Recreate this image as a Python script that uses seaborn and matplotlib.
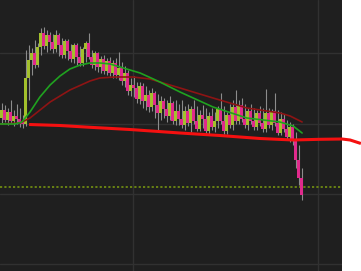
import matplotlib
matplotlib.use("Agg")
import matplotlib.pyplot as plt
import seaborn as sns
import pandas as pd
import numpy as np

# ---- data (price units, bar index 0..100) ----
opens = [153,161,151,159,150,155,152,149,147,193,
         211,218,206,224,238,225,236,229,222,236,
         226,216,230,220,212,226,214,208,222,228,
         214,206,218,204,212,200,210,198,208,196,
         203,190,198,180,186,183,172,185,170,176,
         164,178,166,158,170,162,155,168,150,160,
         152,146,160,148,162,150,142,156,152,140,
         155,144,150,162,150,140,156,146,164,150,
         166,152,146,160,150,144,158,148,142,158,
         146,160,148,138,152,142,134,144,130,111,93]
closes = [161,151,159,150,155,152,149,147,193,211,
          218,206,224,238,225,236,229,222,236,226,
          216,230,220,212,226,214,208,222,228,214,
          206,218,204,212,200,210,198,208,196,203,
          190,198,180,186,183,172,185,170,176,164,
          178,166,158,170,162,155,168,150,160,152,
          146,160,148,162,150,142,156,152,140,155,
          144,150,162,150,140,156,146,164,150,166,
          152,146,160,150,144,158,148,142,158,146,
          160,148,138,152,142,134,144,130,111,93,76]
highs = [168,166,163,171,161,167,163,156,221,226,
         223,231,228,243,244,241,239,237,241,238,
         233,232,232,227,228,228,225,224,230,238,
         221,220,219,215,216,213,214,211,213,219,
         209,205,201,193,195,189,189,188,185,181,
         183,180,177,175,173,171,175,170,171,167,
         171,165,167,165,171,165,161,166,163,159,
         163,159,165,178,165,159,167,171,181,171,
         173,167,163,167,163,161,165,163,182,163,
         162,178,161,159,157,151,149,147,139,126,103]
lows = [147,149,146,148,145,147,144,143,145,171,
        196,203,204,216,222,219,221,218,219,215,
        213,213,211,209,208,206,205,205,209,212,
        203,201,199,198,197,196,195,193,193,191,
        186,184,176,175,174,168,167,163,161,159,
        160,153,139,151,153,149,151,147,146,146,
        143,141,145,139,147,140,140,143,138,136,
        141,139,143,147,137,137,143,141,147,147,
        149,143,141,147,141,141,145,139,139,143,
        141,145,136,136,139,131,129,126,103,86,71]

fast_ma_x = [-0.5,4.5,6.8,9.5,12.8,16.2,19.5,22.8,26.2,29.5,32.8,36.2,39.5,46.2,52.8,59.5,70.5,81.8,92.8,97.2,100.2]
fast_ma_y = [147,147,149,159,174,186,195,202,206,208,208,207,204,198,189,179,164,153,149,145,138]

slow_ma_x = [-0.5,6.2,9.5,16.2,22.8,29.5,32.8,37.8,43.8,49.5,52.8,59.5,70.5,81.8,92.8,96.2,100.2]
slow_ma_y = [147,148,153,169,181,190,193,194,194,192,189,183,173,163,158,155,149]

long_ma_x = [9.2,19.5,29.5,42.8,59.5,72.8,86.2,97.2,106.2,113.5,116.2,119.8]
long_ma_y = [146.5,145.5,143.7,141.5,138,135.5,132.5,131,131.7,132,131,127.5]

level = 84

# ---- styling ----
BG = "#1f1f1f"
GRID = "#313131"
UP = "#a3c02c"
DOWN = "#e02a8c"
WICK = "#8c8c8c"

sns.set_theme(style="dark", rc={"axes.facecolor": BG, "figure.facecolor": "none"})

fig = plt.figure(figsize=(3.61, 2.71), dpi=100)
ax = fig.add_axes([0, 0, 342 / 361, 1])
ax.set_facecolor(BG)

df = pd.DataFrame({"open": opens, "close": closes, "high": highs, "low": lows})
df["idx"] = np.arange(len(df))
df["up"] = df["close"] >= df["open"]

ax.set_xlim(-0.5, 113.5)
ax.set_ylim(0, 271)
ax.set_xticks([43.8, 105.5])
ax.set_yticks([7, 77, 147, 218])
ax.grid(True, color=GRID, linewidth=1.0)
ax.tick_params(length=0, labelbottom=False, labelleft=False)
for s in ax.spines.values():
    s.set_visible(False)

# dotted level line
ax.axhline(level, color="#6e8a12", linewidth=1.3, linestyle=(0, (1.2, 1.2)), zorder=2)

# wicks
ax.vlines(df["idx"], df["low"], df["high"], color=WICK, linewidth=0.8, zorder=3)
# bodies
for up, color in [(True, UP), (False, DOWN)]:
    sub = df[df["up"] == up]
    h = (sub["close"] - sub["open"]).abs().clip(lower=1.5)
    ax.bar(sub["idx"], h, bottom=np.minimum(sub["open"], sub["close"]),
           width=0.8, color=color, linewidth=0, zorder=4)

# moving averages
sns.lineplot(x=slow_ma_x, y=slow_ma_y, ax=ax, color="#8e1414", linewidth=1.2, zorder=5)
sns.lineplot(x=fast_ma_x, y=fast_ma_y, ax=ax, color="#1fa21f", linewidth=1.2, zorder=6)
ax.plot(long_ma_x, long_ma_y, color="#f51010", linewidth=2.2, zorder=7,
        clip_on=False, solid_capstyle="butt")

fig.savefig("out.png", dpi=100, facecolor="none")
